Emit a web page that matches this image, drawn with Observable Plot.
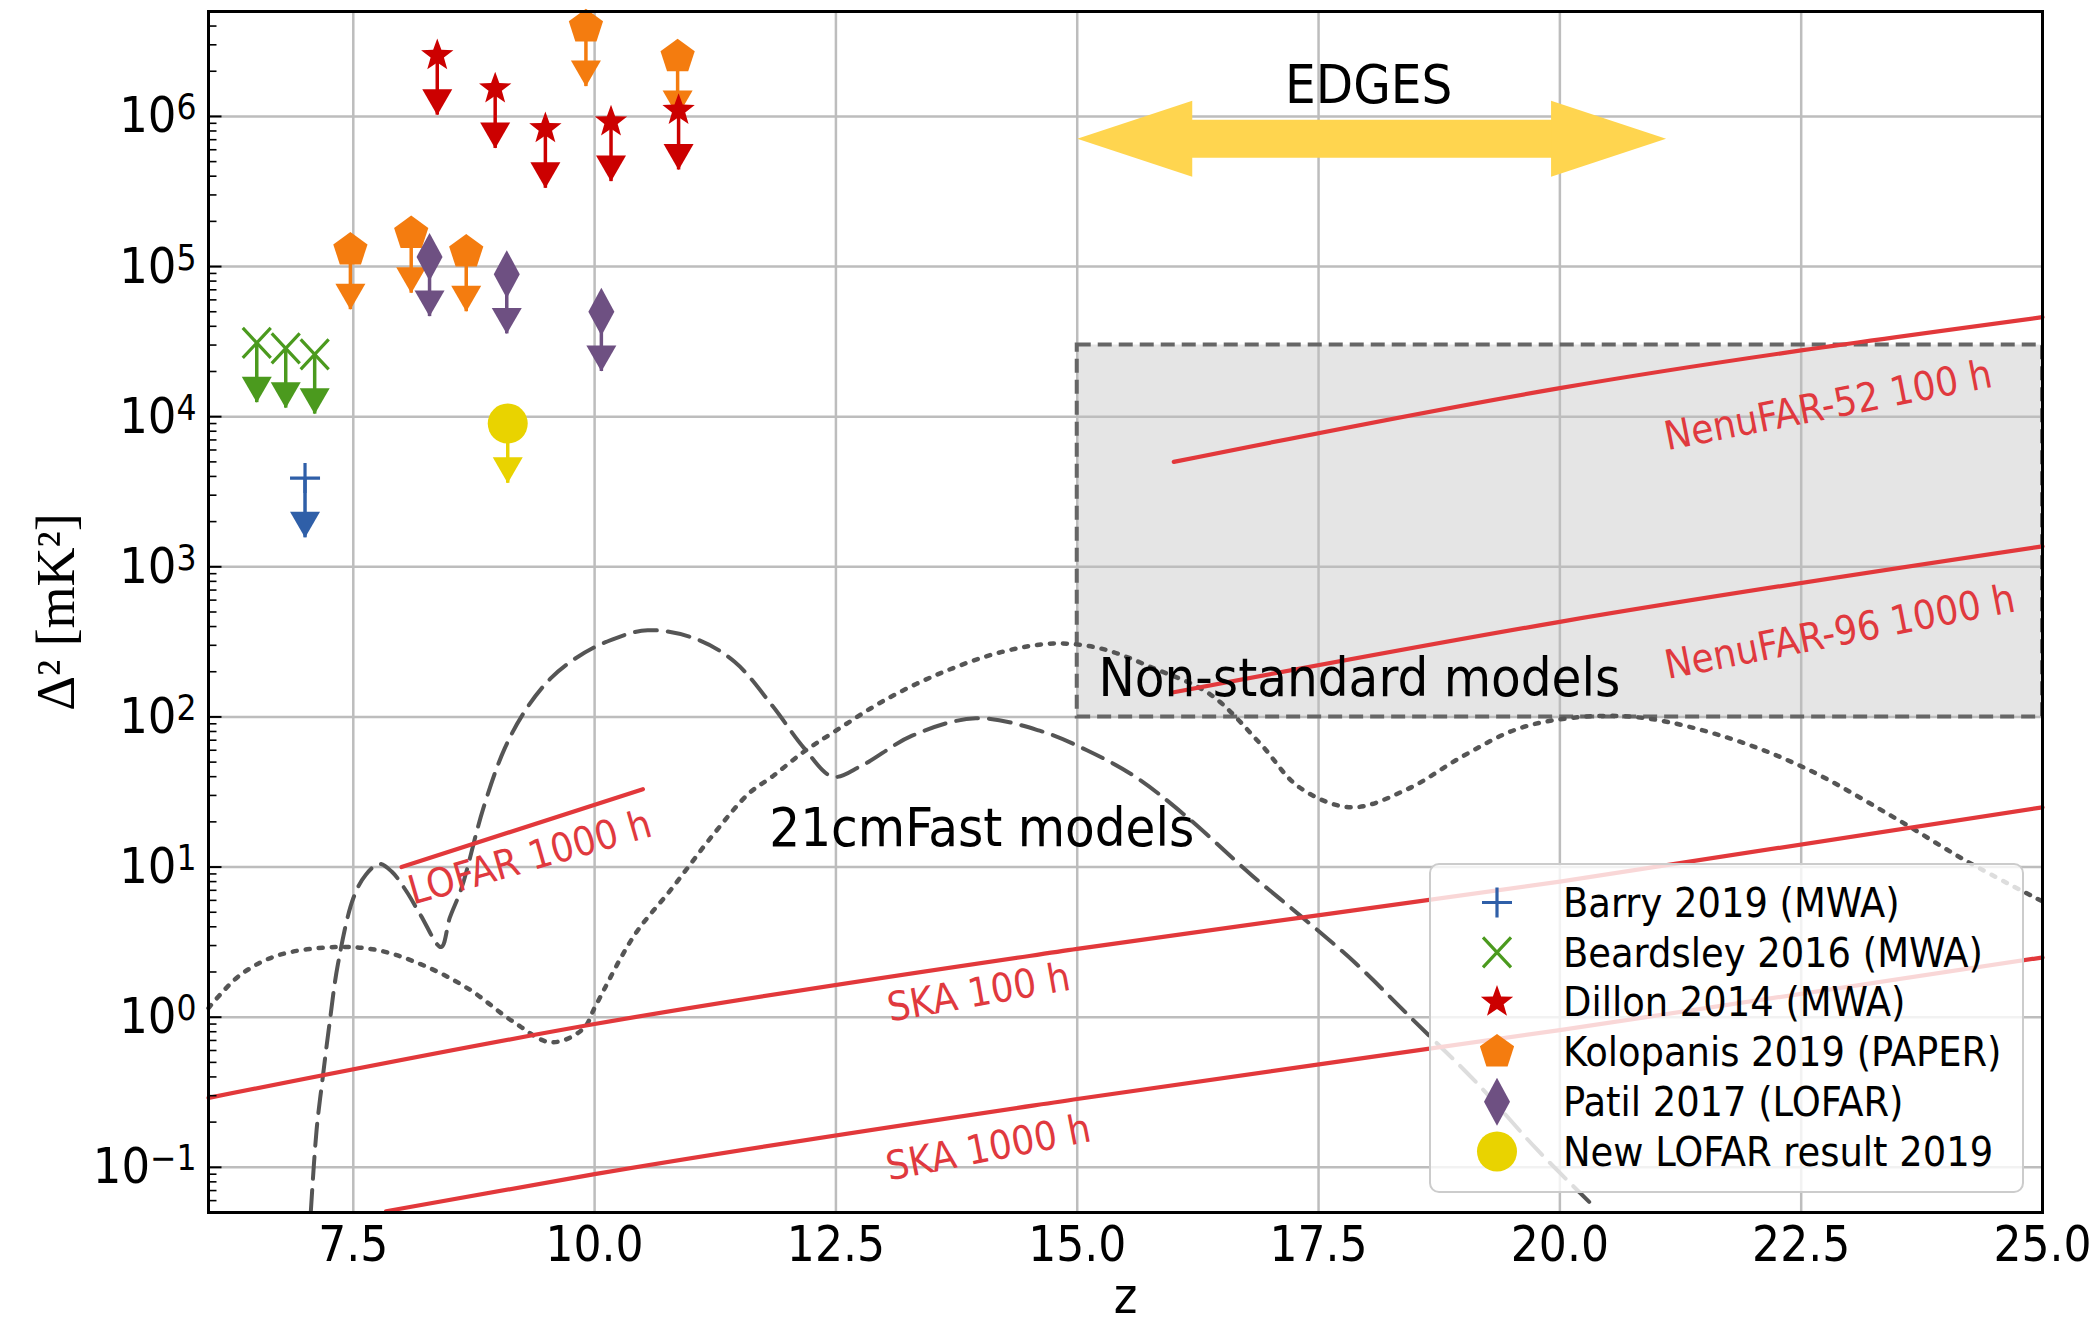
<!DOCTYPE html>
<html><head><meta charset="utf-8">
<script src="https://cdn.jsdelivr.net/npm/d3@7"></script>
<script src="https://cdn.jsdelivr.net/npm/@observablehq/plot@0.6"></script>
<style>
html,body{margin:0;padding:0;background:#fff;}
#chart svg text{font-stretch:condensed;}
[aria-label^="y-axis"] text{font-size:50px;}
[aria-label^="x-axis"] text{font-size:49px;}
</style></head><body><div id="chart"></div>
<script>
// ---------- axis ticks ----------
const xTickValues = [7.5, 10, 12.5, 15, 17.5, 20, 22.5, 25];
const xGridValues = [7.5, 10, 12.5, 15, 17.5, 20, 22.5];
const yDecades = [-1, 0, 1, 2, 3, 4, 5, 6];
const minorDecades = [-2, -1, 0, 1, 2, 3, 4, 5, 6];
const minorMultipliers = [2, 3, 4, 5, 6, 7, 8, 9];

// ---------- upper limits (z, Delta^2 in mK^2) ----------
const barryZ = [7.0];                       const barryV = [3.9e3];
const beardsleyZ = [6.5, 6.8, 7.1];         const beardsleyV = [3.1e4, 2.85e4, 2.6e4];
const dillonZ = [8.37, 8.97, 9.49, 10.17, 10.87];
const dillonV = [2.55e6, 1.53e6, 8.3e5, 9.2e5, 1.1e6];
const kolopanisZ = [7.47, 8.1, 8.67, 9.91, 10.86];
const kolopanisV = [1.29e5, 1.66e5, 1.25e5, 3.95e6, 2.5e6];
const patilZ = [8.29, 9.09, 10.07];         const patilV = [1.16e5, 8.9e4, 5.0e4];
const lofarNewZ = [9.1];                    const lofarNewV = [9.0e3];
const arrowFactor = 0.4; // tip of the upper-limit arrow, relative to the limit

const seriesNames = ["Barry 2019 (MWA)", "Beardsley 2016 (MWA)", "Dillon 2014 (MWA)",
  "Kolopanis 2019 (PAPER)", "Patil 2017 (LOFAR)", "New LOFAR result 2019"];
const seriesColors = ["#2f5fa8", "#4b9a1e", "#cc0000", "#f47c0f", "#6e5082", "#e9d300"];
const seriesSymbols = ["plus", "times", "star", "pentagon", "diamond", "circle"];
const seriesZ = [barryZ, beardsleyZ, dillonZ, kolopanisZ, patilZ, lofarNewZ];
const seriesV = [barryV, beardsleyV, dillonV, kolopanisV, patilV, lofarNewV];
const drawOrder = [1, 0, 3, 2, 4, 5];

// ---------- sensitivity lines ----------
const ska100Z = [6, 10, 15, 20, 25];       const ska100V = [0.29, 0.90, 2.85, 8.0, 25];
const ska1000Z = [7.84, 10, 15, 20, 25];   const ska1000V = [0.051, 0.09, 0.285, 0.82, 2.5];
const lofar1000Z = [8.0, 10.5];            const lofar1000V = [10, 33];
const nenu52Z = [16, 20, 25];              const nenu52V = [5000, 15500, 46000];
const nenu96Z = [16, 20, 25];              const nenu96V = [146, 430, 1370];

// ---------- 21cmFast model curves ----------
const dashedZ = [7.06, 7.12, 7.18, 7.25, 7.34, 7.5, 7.63, 7.77, 7.9, 8.05, 8.2, 8.41, 8.5, 8.62, 8.85, 9.07, 9.3, 9.55, 9.8, 10.12, 10.55, 11.05, 11.45, 11.84, 12.17, 12.47, 12.77, 13.29, 13.95, 14.61, 15.1, 15.6, 16.12, 16.81, 17.31, 17.87, 18.5, 19.13, 19.76, 20.35];
const dashedV = [0.0506, 0.178, 0.38, 0.87, 2.24, 6.2, 8.9, 10.5, 9.3, 6.9, 4.75, 2.93, 4.6, 7.2, 25, 62, 115, 182, 245, 316, 378, 331, 233, 119, 62, 40, 47.5, 75, 98, 81, 60, 40, 22, 8.8, 4.75, 2.33, 0.93, 0.37, 0.132, 0.055];
const dottedZ = [6.0, 6.32, 6.71, 7.31, 7.77, 8.23, 8.69, 9.16, 9.55, 9.88, 10.01, 10.41, 10.8, 11.25, 11.6, 11.84, 12.15, 12.5, 13.03, 13.62, 14.22, 14.75, 15.25, 15.8, 16.38, 16.9, 17.3, 17.84, 18.42, 19.0, 19.58, 20.23, 20.89, 21.76, 22.56, 23.43, 24.23, 25.0];
const dottedV = [1.15, 1.89, 2.57, 2.93, 2.78, 2.21, 1.55, 0.93, 0.68, 0.835, 1.19, 3.5, 7.2, 17.1, 31, 40, 57.5, 81, 132, 200, 271, 308, 285, 210, 141, 66, 34, 25, 33, 55, 84, 100, 98, 72, 45, 22, 10.8, 5.9];

// ---------- regions & annotations ----------
const boxZ = [15, 25];  const boxV = [100, 3e4];
const edgesZ = [15.0, 21.1]; const edgesV = 7.1e5;
const annotText = ["EDGES", "Non-standard models", "21cmFast models"];
const annotZ = [18.02, 15.22, 11.81];
const annotV = [1.6e6, 180, 18];
const annotAnchor = ["middle", "start", "start"];
const lineLabelText = ["LOFAR 1000 h", "SKA 100 h", "SKA 1000 h", "NenuFAR-52 100 h", "NenuFAR-96 1000 h"];
const lineLabelZ = [9.33, 13.98, 14.08, 22.78, 22.9];
const lineLabelV = [11.5, 1.45, 0.134, 11800, 365];
const lineLabelAngle = [-16, -10, -11, -11, -11];

// ---------- styles ----------
const SANS = '"DejaVu Sans Condensed","DejaVu Sans",sans-serif';
const RED = "#e2383b";
const RED_TEXT = "#e0393e";
const YELLOW = "#ffd54f";

const SYM = {
  plus: {draw(c){c.moveTo(-15,0);c.lineTo(15,0);c.moveTo(0,-15);c.lineTo(0,15);}},
  times: {draw(c){c.moveTo(-14,-15);c.lineTo(14,15);c.moveTo(-14,15);c.lineTo(14,-15);}},
  star: {draw(c){for(let i=0;i<10;i++){const r=i%2?7:17;const a=-Math.PI/2+i*Math.PI/5;const x=r*Math.cos(a),y=r*Math.sin(a);if(i)c.lineTo(x,y);else c.moveTo(x,y);}c.closePath();}},
  pentagon: {draw(c){for(let i=0;i<5;i++){const a=-Math.PI/2+i*2*Math.PI/5;const x=18*Math.cos(a),y=18*Math.sin(a);if(i)c.lineTo(x,y);else c.moveTo(x,y);}c.closePath();}},
  diamond: {draw(c){c.moveTo(0,-24);c.lineTo(13,0);c.lineTo(0,24);c.lineTo(-13,0);c.closePath();}},
  circle: {draw(c){c.moveTo(20,0);c.arc(0,0,20,0,2*Math.PI);c.closePath();}},
  caret: {draw(c){c.moveTo(0,0);c.lineTo(15,-26);c.lineTo(-15,-26);c.closePath();}},
  headL: {draw(c){c.moveTo(0,0);c.lineTo(115,-38);c.lineTo(115,38);c.closePath();}},
  headR: {draw(c){c.moveTo(0,0);c.lineTo(-115,-38);c.lineTo(-115,38);c.closePath();}},
  tickMajor: {draw(c){c.moveTo(0,0);c.lineTo(13,0);}},
  tickMinor: {draw(c){c.moveTo(0,0);c.lineTo(8,0);}}
};
const strokedSymbols = new Set(["plus", "times"]);

// ---------- tables ----------
const pts = (Z, V) => Z.map((z, i) => ({z, v: V[i]}));
const majorTicks = yDecades.map(k => Math.pow(10, k));
const minorTicks = [];
for (const k of minorDecades) for (const m of minorMultipliers) {
  const v = m * Math.pow(10, k);
  if (v >= 0.05 && v <= 5e6) minorTicks.push(v);
}
const redLines = [
  ...pts(ska100Z, ska100V).map(d => ({...d, s: "ska100"})),
  ...pts(ska1000Z, ska1000V).map(d => ({...d, s: "ska1000"})),
  ...pts(lofar1000Z, lofar1000V).map(d => ({...d, s: "lofar"})),
  ...pts(nenu52Z, nenu52V).map(d => ({...d, s: "nenu52"})),
  ...pts(nenu96Z, nenu96V).map(d => ({...d, s: "nenu96"}))
];
const box = [{x1: boxZ[0], x2: boxZ[1], y1: boxV[0], y2: boxV[1]}];
const edges = [{z1: edgesZ[0], z2: edgesZ[1], v: edgesV}];
const annots = annotText.map((t, i) => ({t, z: annotZ[i], v: annotV[i], a: annotAnchor[i]}));
const lineLabels = lineLabelText.map((t, i) => ({t, z: lineLabelZ[i], v: lineLabelV[i], r: lineLabelAngle[i]}));

const marks = [
  Plot.rect(box, {x1: "x1", x2: "x2", y1: "y1", y2: "y2", fill: "#e5e5e5"}),
  Plot.ruleX(xGridValues, {stroke: "#bdbdbd", strokeWidth: 2.5}),
  Plot.ruleY(majorTicks, {stroke: "#bdbdbd", strokeWidth: 2.5}),
  Plot.rect(box, {x1: "x1", x2: "x2", y1: "y1", y2: "y2", fill: "none", stroke: "#666", strokeWidth: 4, strokeDasharray: "14,7"}),
  Plot.line(pts(dottedZ, dottedV), {x: "z", y: "v", stroke: "#555", strokeWidth: 4.5, strokeDasharray: "4,9", curve: "catmull-rom"}),
  Plot.line(pts(dashedZ, dashedV), {x: "z", y: "v", stroke: "#555", strokeWidth: 4, strokeDasharray: "22,11", curve: "catmull-rom"}),
  Plot.line(redLines, {x: "z", y: "v", z: "s", stroke: RED, strokeWidth: 4.2, curve: "monotone-x"}),
  Plot.ruleY(edges, {y: "v", x1: "z1", x2: "z2", stroke: YELLOW, strokeWidth: 38, insetLeft: 112, insetRight: 112}),
  Plot.dot(edges, {x: "z1", y: "v", symbol: SYM.headL, fill: YELLOW, stroke: "none"}),
  Plot.dot(edges, {x: "z2", y: "v", symbol: SYM.headR, fill: YELLOW, stroke: "none"})
];
for (const i of drawOrder) {
  const data = pts(seriesZ[i], seriesV[i]);
  const col = seriesColors[i];
  const name = seriesSymbols[i];
  marks.push(
    Plot.ruleX(data, {x: "z", y1: "v", y2: d => d.v * arrowFactor, stroke: col, strokeWidth: 3.5}),
    Plot.dot(data, {x: "z", y: d => d.v * arrowFactor, symbol: SYM.caret, fill: col, stroke: "none"}),
    strokedSymbols.has(name)
      ? Plot.dot(data, {x: "z", y: "v", symbol: SYM[name], fill: "none", stroke: col, strokeWidth: 3.2})
      : Plot.dot(data, {x: "z", y: "v", symbol: SYM[name], fill: col, stroke: "none"})
  );
}
for (const anchor of ["middle", "start"]) {
  marks.push(Plot.text(annots.filter(d => d.a === anchor), {x: "z", y: "v", text: "t", textAnchor: anchor, lineAnchor: "middle", fontSize: 54, fill: "#000"}));
}
for (const d of lineLabels) {
  marks.push(Plot.text([d], {x: "z", y: "v", text: "t", rotate: d.r, textAnchor: "middle", lineAnchor: "middle", fontSize: 40, fill: RED_TEXT}));
}
marks.push(
  Plot.dot(majorTicks, {y: d => d, frameAnchor: "left", symbol: SYM.tickMajor, fill: "none", stroke: "#000", strokeWidth: 2}),
  Plot.dot(minorTicks, {y: d => d, frameAnchor: "left", symbol: SYM.tickMinor, fill: "none", stroke: "#000", strokeWidth: 1.6}),
  Plot.frame({stroke: "#000", strokeWidth: 3}),
  Plot.text(["Δ² [mK²]"], {frameAnchor: "left", dx: -152, rotate: -90, textAnchor: "middle", lineAnchor: "middle", fontFamily: '"Liberation Serif","DejaVu Serif",serif', fontSize: 54, fill: "#000"}),
  Plot.text(["z"], {frameAnchor: "bottom", dy: 84, textAnchor: "middle", lineAnchor: "middle", fontSize: 50, fill: "#000"})
);

const svg = Plot.plot({
  width: 2100, height: 1326,
  marginLeft: 208, marginRight: 58, marginTop: 11, marginBottom: 114,
  style: {fontFamily: SANS, fontSize: "44px", background: "#fff", color: "#000", overflow: "visible"},
  x: {domain: [6, 25], ticks: xTickValues, tickFormat: d => d.toFixed(1), tickSize: 0, tickPadding: 14, label: null},
  y: {type: "log", domain: [0.05, 5e6], ticks: majorTicks, tickSize: 0, tickPadding: 12, label: null,
      tickFormat: d => { const k = Math.round(Math.log10(d)); return "10^" + (k < 0 ? "\u2212" + (-k) : k); }},
  marks
});

// superscript exponents on the y tick labels
svg.querySelectorAll("text").forEach(t => {
  const m = /^10\^(.+)$/.exec(t.textContent);
  if (m) {
    t.textContent = "10";
    const ts = document.createElementNS("http://www.w3.org/2000/svg", "tspan");
    ts.setAttribute("dy", "-13");
    ts.setAttribute("font-size", "35");
    ts.textContent = m[1];
    t.appendChild(ts);
  }
});

// legend (matplotlib-style box)
const lg = d3.select(svg).append("g").attr("font-family", SANS).attr("font-size", 41).attr("text-anchor", "start");
lg.append("rect").attr("x", 1430).attr("y", 864).attr("width", 593).attr("height", 328)
  .attr("rx", 9).attr("fill", "#fff").attr("fill-opacity", 0.8).attr("stroke", "#cccccc").attr("stroke-width", 2);
seriesNames.forEach((name, i) => {
  const cy = 902.5 + i * 49.8;
  const sn = seriesSymbols[i];
  const p = lg.append("path").attr("d", d3.symbol().type(SYM[sn])()).attr("transform", `translate(1497,${cy})`);
  if (strokedSymbols.has(sn)) p.attr("fill", "none").attr("stroke", seriesColors[i]).attr("stroke-width", 3.2);
  else p.attr("fill", seriesColors[i]);
  lg.append("text").attr("x", 1563).attr("y", cy).attr("dy", "0.35em").attr("text-anchor", "start").attr("fill", "#000").text(name);
});

document.getElementById("chart").appendChild(svg);
</script></body></html>
